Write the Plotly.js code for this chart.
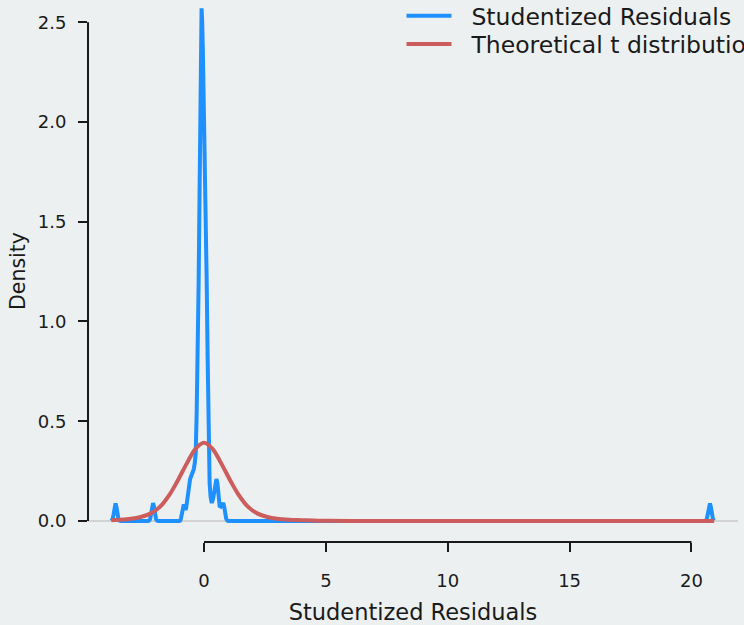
<!DOCTYPE html>
<html><head><meta charset="utf-8">
<script src="https://cdn.plot.ly/plotly-3.0.1.min.js"></script>
<style>html,body{margin:0;padding:0;background:#ECF0F1;} #chart{width:744px;height:625px;}</style>
</head><body><div id="chart"></div>
<script>
// Kernel density of the studentized residuals
const residX = [-3.80,-3.75,-3.71,-3.67,-3.63,-3.59,-3.55,-3.51,-3.47,-3.42,
  -2.30,-2.25,-2.21,-2.17,-2.13,-2.09,-2.05,-2.01,-1.97,-1.93,-1.88,
  -1.02,-0.98,-0.95,-0.91,-0.87,-0.83,-0.79,-0.76,-0.73,-0.70,-0.66,-0.62,-0.57,-0.52,-0.47,-0.42,-0.38,-0.34,
  -0.30,-0.26,-0.22,-0.185,-0.16,-0.14,-0.12,-0.10,-0.08,-0.05,-0.02,0.02,0.07,0.11,0.15,0.18,0.205,
  0.23,0.27,0.32,0.37,0.42,0.47,0.51,0.55,0.59,0.64,0.69,0.74,0.79,0.83,0.87,0.91,0.95,0.99,
  20.54,20.59,20.63,20.67,20.71,20.76,20.80,20.84,20.88,20.93];
const residDensity = [0.001,0.01,0.033,0.068,0.088,0.068,0.033,0.01,0.002,0,
  0,0.002,0.01,0.034,0.07,0.09,0.07,0.034,0.01,0.002,0,
  0,0.002,0.01,0.03,0.06,0.083,0.068,0.055,0.068,0.088,0.12,0.165,0.21,0.225,0.235,0.26,0.29,0.34,
  0.55,0.81,1.20,1.61,1.95,2.20,2.45,2.57,2.52,2.38,2.20,1.92,1.61,1.20,0.81,0.52,0.31,
  0.19,0.12,0.09,0.11,0.16,0.20,0.21,0.19,0.13,0.075,0.072,0.082,0.09,0.07,0.035,0.012,0.003,0,
  0,0.002,0.01,0.034,0.068,0.088,0.068,0.034,0.01,0.002];

// Theoretical t density
const tX = [-3.80,-3.5,-3.0,-2.6,-2.2,-1.8,-1.4,-1.1,-0.7,-0.35,0,0.35,0.7,1.1,1.4,1.8,2.2,2.6,3.0,3.5,4.0,4.5,5.0,6.0,8.0,12.0,16.0,20.93];
const tDensity = [0.004,0.006,0.011,0.02,0.037,0.072,0.135,0.198,0.29,0.362,0.392,0.362,0.29,0.198,0.135,0.072,0.037,0.02,0.011,0.006,0.004,0.002,0.001,0.0005,0.0001,0,0,0];

const seriesNames = ['Studentized Residuals', 'Theoretical t distribution'];
const xTickVals = [0, 5, 10, 15, 20];
const yTickVals = [0, 0.5, 1, 1.5, 2, 2.5];
const yTickText = ['0.0', '0.5', '1.0', '1.5', '2.0', '2.5'];

const FONT = 'DejaVu Sans, sans-serif';
const INK = '#1a1a1a';
const pad = '\u00a0\u00a0';

const traces = [
  {x: residX, y: residDensity, type: 'scatter', mode: 'lines', name: pad + seriesNames[0],
   legend: 'legend', line: {color: '#1E90FF', width: 4}},
  {x: tX, y: tDensity, type: 'scatter', mode: 'lines', name: pad + seriesNames[1],
   legend: 'legend2', line: {color: '#CD5C5C', width: 4, shape: 'spline', smoothing: 1}}
];

const legendBase = {xref: 'container', yref: 'paper', x: 401.5/744, xanchor: 'left', yanchor: 'top',
  bgcolor: 'rgba(0,0,0,0)', font: {size: 23.5, family: FONT, color: INK}, itemwidth: 45};

const layout = {
  width: 744, height: 625,
  paper_bgcolor: '#ECF0F1', plot_bgcolor: '#ECF0F1',
  margin: {l: 88, r: 6, t: 0, b: 83, autoexpand: false},
  font: {family: FONT, color: INK},
  showlegend: true,
  legend: Object.assign({}, legendBase, {y: 1 + 6/542}),
  legend2: Object.assign({}, legendBase, {y: 1 - 22.3/542}),
  xaxis: {range: [-4.76, 21.91], tickvals: xTickVals, ticks: 'outside', ticklen: 9, tickwidth: 2,
          tickcolor: INK, showgrid: false, zeroline: false, showline: false, ticklabelstandoff: 13,
          tickfont: {size: 18, family: FONT, color: INK},
          title: {text: 'Studentized Residuals', font: {size: 22.5, family: FONT, color: INK}, standoff: 21}},
  yaxis: {range: [-0.1053, 2.6115], tickvals: yTickVals, ticktext: yTickText, ticks: 'outside', ticklen: 9, tickwidth: 2,
          tickcolor: INK, showgrid: false, zeroline: true, zerolinecolor: '#D3D3D3', zerolinewidth: 2, showline: false,
          ticklabelstandoff: 8,
          tickfont: {size: 18, family: FONT, color: INK},
          title: {text: 'Density', font: {size: 20.5, family: FONT, color: INK}, standoff: 6}},
  shapes: [
    {type: 'line', xref: 'x', yref: 'paper', x0: xTickVals[0], x1: xTickVals[xTickVals.length-1], y0: 0, y1: 0,
     line: {color: INK, width: 2}},
    {type: 'line', xref: 'paper', yref: 'y', x0: 0, x1: 0, y0: yTickVals[0], y1: yTickVals[yTickVals.length-1],
     line: {color: INK, width: 2}}
  ]
};

Plotly.newPlot('chart', traces, layout, {displayModeBar: false, responsive: false});
</script>
</body></html>
